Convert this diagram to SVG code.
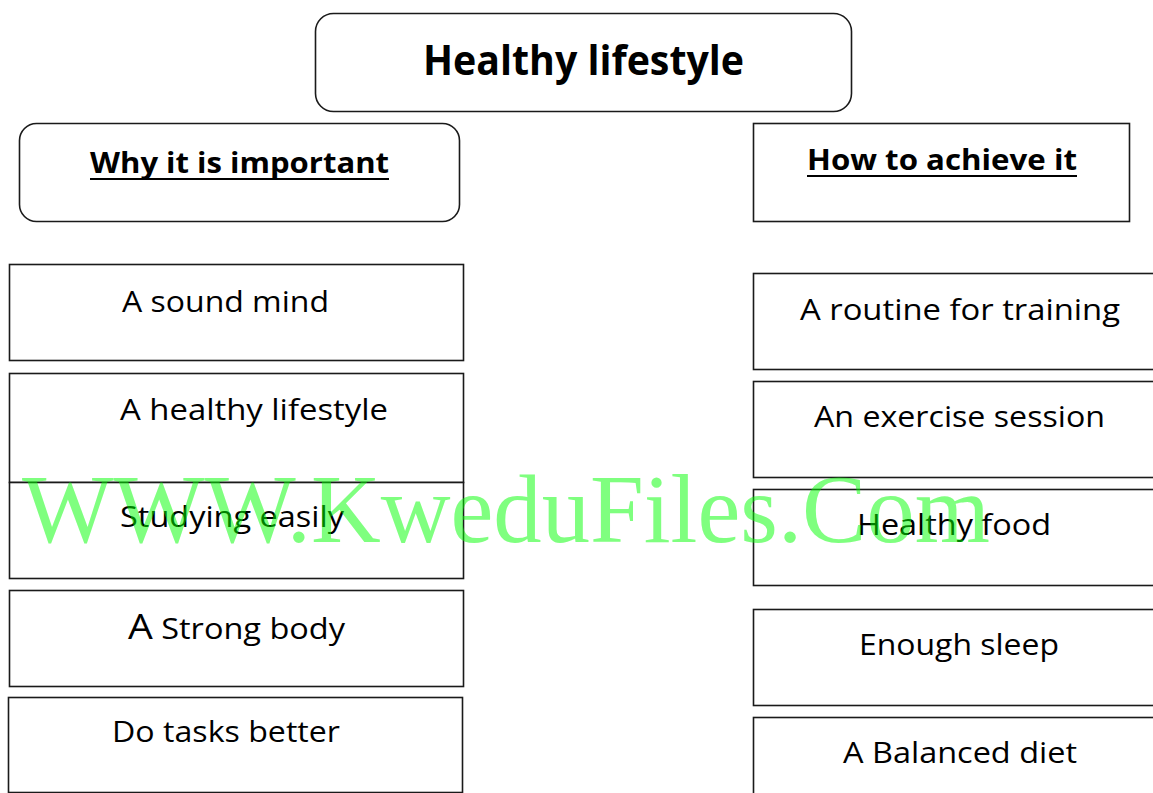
<svg xmlns="http://www.w3.org/2000/svg" width="1153" height="793" viewBox="0 0 1153 793">
<style>
.box{fill:#fff;stroke:#1a1a1a;stroke-width:1.6}
.t{font-family:"Open Sans","Noto Sans",sans-serif;font-size:29px;fill:#000}
.b{font-weight:bold}
.ttl{font-size:42px}
.big{font-size:35px}
.ul{stroke:#000;stroke-width:2.2}
.wm{font-family:"Liberation Serif","Times New Roman",serif;font-size:98px;fill:#00ff00;fill-opacity:0.5}
</style>
<rect width="1153" height="793" fill="#fff"/>
<g id="title">
<rect class="box" x="315.5" y="13.5" width="536" height="98" rx="18"/>
<text class="t b ttl" x="423" y="75" textLength="321" lengthAdjust="spacingAndGlyphs">Healthy lifestyle</text>
</g>
<g id="why">
<rect class="box" x="19.5" y="123.5" width="440" height="98" rx="17"/>
<text class="t b" x="90" y="173" textLength="299" lengthAdjust="spacingAndGlyphs">Why it is important</text>
<line class="ul" x1="90" y1="179" x2="389" y2="179"/>
</g>
<g id="how">
<rect class="box" x="753.5" y="123.5" width="376" height="98"/>
<text class="t b" x="807" y="170" textLength="270" lengthAdjust="spacingAndGlyphs">How to achieve it</text>
<line class="ul" x1="807" y1="176" x2="1077" y2="176"/>
</g>
<g id="sound-mind">
<rect class="box" x="9.5" y="264.5" width="454" height="96"/>
<text class="t" x="122" y="312" textLength="207" lengthAdjust="spacingAndGlyphs">A sound mind</text>
</g>
<g id="healthy-lifestyle">
<rect class="box" x="9.5" y="373.5" width="454" height="109"/>
<text class="t" x="120" y="420" textLength="268" lengthAdjust="spacingAndGlyphs">A healthy lifestyle</text>
</g>
<g id="studying">
<rect class="box" x="9.5" y="482.5" width="454" height="96"/>
<text class="t" x="120" y="527" textLength="224" lengthAdjust="spacingAndGlyphs">Studying easily</text>
</g>
<g id="strong-body">
<rect class="box" x="9.5" y="590.5" width="454" height="96"/>
<text class="t" x="128" y="639" textLength="217" lengthAdjust="spacingAndGlyphs"><tspan class="big">A</tspan> Strong body</text>
</g>
<g id="tasks">
<rect class="box" x="8.5" y="697.5" width="454" height="95"/>
<text class="t" x="112" y="742" textLength="228" lengthAdjust="spacingAndGlyphs">Do tasks better</text>
</g>
<g id="routine">
<rect class="box" x="753.5" y="273.5" width="410" height="96"/>
<text class="t" x="800" y="320" textLength="320" lengthAdjust="spacingAndGlyphs">A routine for training</text>
</g>
<g id="exercise">
<rect class="box" x="753.5" y="381.5" width="410" height="96"/>
<text class="t" x="814" y="427" textLength="291" lengthAdjust="spacingAndGlyphs">An exercise session</text>
</g>
<g id="food">
<rect class="box" x="753.5" y="489.5" width="410" height="96"/>
<text class="t" x="857" y="535" textLength="194" lengthAdjust="spacingAndGlyphs">Healthy food</text>
</g>
<g id="sleep">
<rect class="box" x="753.5" y="609.5" width="410" height="96"/>
<text class="t" x="859" y="655" textLength="200" lengthAdjust="spacingAndGlyphs">Enough sleep</text>
</g>
<g id="diet">
<rect class="box" x="753.5" y="717.5" width="410" height="96"/>
<text class="t" x="843" y="763" textLength="234" lengthAdjust="spacingAndGlyphs">A Balanced diet</text>
</g>
<g id="connectors"></g>
<text class="wm" x="22" y="542" textLength="968" lengthAdjust="spacingAndGlyphs">WWW.KweduFiles.Com</text>
</svg>
